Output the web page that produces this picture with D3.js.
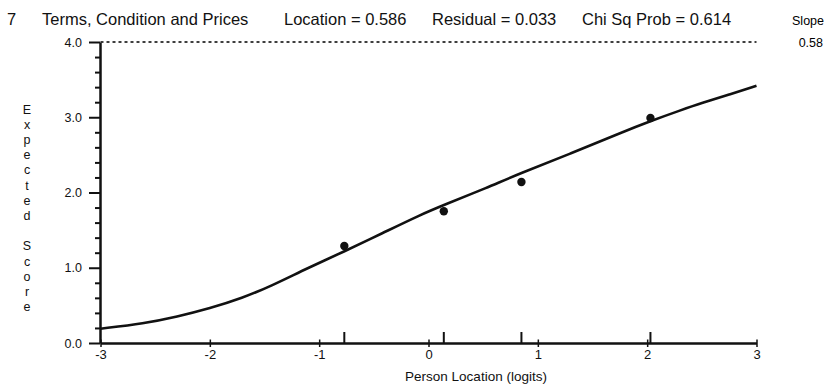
<!DOCTYPE html>
<html><head><meta charset="utf-8">
<script src="https://cdn.jsdelivr.net/npm/d3@7"></script>
<style>
html,body{margin:0;padding:0;background:#fff;}
svg{display:block;font-family:"Liberation Sans",Arial,sans-serif;}
</style></head>
<body><svg id="c" width="827" height="388"></svg>
<script>
// ---- data ----
const itemNumber = "7";
const itemTitle = "Terms, Condition and Prices";
const statLabels = ["Location = 0.586", "Residual = 0.033", "Chi Sq Prob = 0.614"];
const slopeLabel = "Slope";
const slopeValue = "0.58";
const xLabel = "Person Location (logits)";
const yLabel = "Expected Score";
const xTicks = [-3, -2, -1, 0, 1, 2, 3];
const yTicks = [0, 1, 2, 3, 4];
const yMinorTicks = [0.2,0.4,0.6,0.8,1.2,1.4,1.6,1.8,2.2,2.4,2.6,2.8,3.2,3.4,3.6,3.8];
const curveX = [-3, -2.6, -2.3, -2.0, -1.7, -1.45, -1.1, -0.78, -0.42, -0.08, 0.15, 0.53, 0.83, 1.29, 1.75, 2.05, 2.3, 2.5, 2.75, 3.0];
const curveY = [0.19, 0.26, 0.35, 0.46, 0.60, 0.75, 1.00, 1.21, 1.46, 1.70, 1.84, 2.06, 2.25, 2.51, 2.79, 2.96, 3.09, 3.19, 3.30, 3.42];
const pointX = [-0.77, 0.14, 0.85, 2.03];
const pointY = [1.29, 1.75, 2.14, 2.99];
const maxScore = 4;

// ---- drawing ----
const svg = d3.select("#c");
const x = d3.scaleLinear().domain([-3, 3]).range([100.5, 756.5]);
const y = d3.scaleLinear().domain([0, 4]).range([343, 42]);

// title
const t = svg.append("g").attr("font-size", 16.5).attr("fill", "#111");
t.append("text").attr("x", 7).attr("y", 25).text(itemNumber);
t.append("text").attr("x", 42).attr("y", 25).text(itemTitle);
const statX = [284, 432, 582];
statLabels.forEach((s, i) => t.append("text").attr("x", statX[i]).attr("y", 25).text(s));
svg.append("text").attr("x", 824).attr("y", 25).attr("text-anchor", "end").attr("font-size", 12.5).text(slopeLabel);
svg.append("text").attr("x", 823).attr("y", 46.5).attr("text-anchor", "end").attr("font-size", 12.5).text(slopeValue);

// dashed max line
svg.append("line").attr("x1", x(-3)).attr("x2", x(3)).attr("y1", y(maxScore)).attr("y2", y(maxScore))
  .attr("stroke", "#000").attr("stroke-width", 1.5).attr("stroke-dasharray", "3,3");

// y axis
const yAx = svg.append("g").attr("transform", "translate(100,0)")
  .call(d3.axisLeft(y).tickValues(yTicks).tickFormat(d3.format(".1f")).tickSize(11).tickSizeOuter(0).tickPadding(7));
yAx.selectAll("line").attr("stroke", "#111").attr("stroke-width", 2);
yAx.select(".domain").attr("stroke", "#111").attr("stroke-width", 2.5);
yAx.selectAll("text").attr("font-size", 12.5).attr("font-family", "Liberation Sans, Arial, sans-serif").attr("fill", "#111");
const yMin = svg.append("g").attr("transform", "translate(100,0)")
  .call(d3.axisLeft(y).tickValues(yMinorTicks).tickFormat("").tickSize(5).tickSizeOuter(0));
yMin.select(".domain").remove();
yMin.selectAll("line").attr("stroke", "#111").attr("stroke-width", 2);

// x axis
const xAx = svg.append("g").attr("transform", "translate(0,343)")
  .call(d3.axisBottom(x).tickValues(xTicks).tickFormat(d => String(d)).tickSize(4).tickSizeOuter(0).tickPadding(3));
xAx.select(".domain").attr("stroke", "#111").attr("stroke-width", 2.5);
xAx.selectAll(".tick line").attr("y1", -3.5).attr("y2", 4).attr("stroke", "#111").attr("stroke-width", 1.5);
xAx.selectAll("text").attr("font-size", 13).attr("font-family", "Liberation Sans, Arial, sans-serif").attr("fill", "#111");

// class interval markers on x axis
svg.append("g").selectAll("line").data(pointX).join("line")
  .attr("x1", d => x(d)).attr("x2", d => x(d)).attr("y1", 343).attr("y2", 332)
  .attr("stroke", "#111").attr("stroke-width", 2);

// axis titles
svg.append("text").attr("x", 476).attr("y", 381).attr("text-anchor", "middle")
  .attr("font-size", 13.5).attr("fill", "#111").text(xLabel);
const yl = svg.append("text").attr("text-anchor", "middle").attr("font-size", 12.5).attr("fill", "#111");
yLabel.split("").forEach((ch, i) => {
  yl.append("tspan").attr("x", 27).attr("y", 113.5 + i * 15.2).text(ch === " " ? "\u00a0" : ch);
});

// curve
const data = curveX.map((v, i) => [v, curveY[i]]);
svg.append("path").datum(data)
  .attr("d", d3.line().x(d => x(d[0])).y(d => y(d[1])).curve(d3.curveBasis))
  .attr("fill", "none").attr("stroke", "#111").attr("stroke-width", 2.6);

// observed points
svg.append("g").selectAll("circle").data(pointX).join("circle")
  .attr("cx", d => x(d)).attr("cy", (d, i) => y(pointY[i])).attr("r", 4.2).attr("fill", "#111");
</script></body></html>
